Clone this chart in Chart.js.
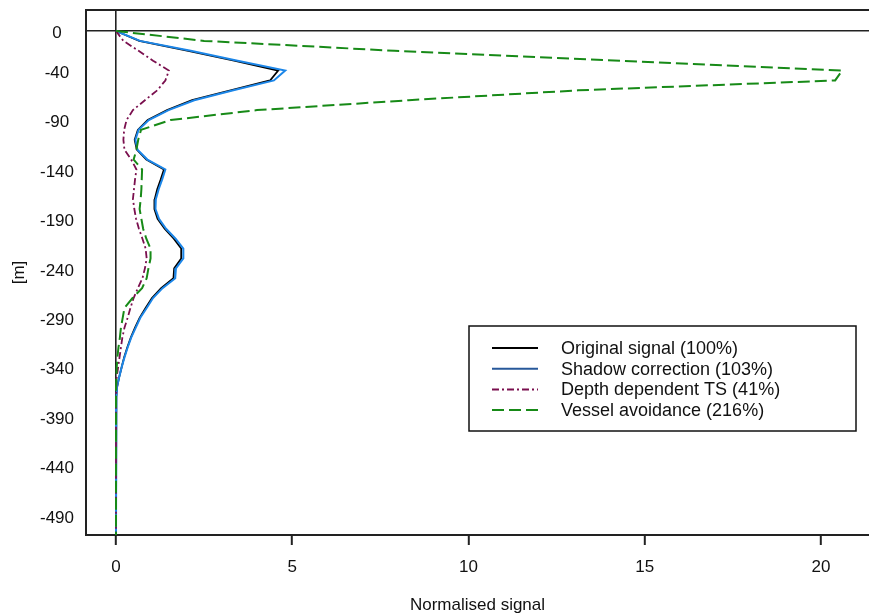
<!DOCTYPE html>
<html>
<head>
<meta charset="utf-8">
<script src="https://cdn.jsdelivr.net/npm/chart.js@4.4.1/dist/chart.umd.min.js"></script>
<style>
  body { margin: 0; background: #fff; }
  #wrap { width: 869px; height: 616px; position: relative; }
</style>
</head>
<body>
<div id="wrap"><canvas id="profile"></canvas></div>
<script>
'use strict';

// depth of each sample [m]
const depths = [0, -10, -20, -30, -40, -50, -60, -70, -80, -90,
    -100, -110, -120, -130, -140, -150, -160, -170, -180, -190,
    -200, -210, -220, -230, -240, -250, -260, -270, -280, -290,
    -300, -310, -320, -330, -340, -350, -360, -370, -380, -390,
    -400, -410, -420, -430, -440, -450, -460, -470, -480, -490,
    -500, -510];

const originalSignal = [0, 0.66, 2.05, 3.35, 4.6, 4.37, 3.25, 2.16, 1.45, 0.9,
    0.62, 0.53, 0.59, 0.86, 1.36, 1.27, 1.17, 1.1, 1.09, 1.18,
    1.38, 1.64, 1.85, 1.85, 1.65, 1.63, 1.28, 1.02, 0.84, 0.67,
    0.54, 0.42, 0.32, 0.23, 0.16, 0.09, 0.03, 0.01, 0, 0,
    0, 0, 0, 0, 0, 0, 0, 0, 0, 0,
    0, 0];

const shadowCorrection = [0, 0.68, 2.12, 3.45, 4.8, 4.48, 3.33, 2.22, 1.49, 0.93,
    0.64, 0.55, 0.61, 0.89, 1.4, 1.31, 1.21, 1.13, 1.12, 1.22,
    1.42, 1.69, 1.91, 1.91, 1.7, 1.68, 1.32, 1.05, 0.87, 0.69,
    0.56, 0.43, 0.33, 0.24, 0.16, 0.09, 0.03, 0.01, 0, 0,
    0, 0, 0, 0, 0, 0, 0, 0, 0, 0,
    0, 0];

const depthDependentTS = [0, 0.21, 0.64, 1.05, 1.5, 1.4, 1.17, 0.82, 0.48, 0.3,
    0.23, 0.21, 0.24, 0.43, 0.58, 0.54, 0.51, 0.48, 0.52, 0.57,
    0.65, 0.75, 0.84, 0.87, 0.82, 0.75, 0.62, 0.5, 0.41, 0.33,
    0.24, 0.18, 0.14, 0.1, 0.06, 0.02, 0.01, 0, 0, 0,
    0, 0, 0, 0, 0, 0, 0, 0, 0, 0,
    0, 0];

const vesselAvoidance = [0, 2.5, 7.9, 14.3, 20.6, 20.4, 13.1, 8.3, 4.0, 1.55,
    0.71, 0.63, 0.58, 0.5, 0.74, 0.73, 0.72, 0.7, 0.67, 0.72,
    0.77, 0.86, 0.98, 0.98, 0.92, 0.87, 0.74, 0.47, 0.24, 0.19,
    0.14, 0.11, 0.07, 0.04, 0.02, 0.01, 0, 0, 0, 0,
    0, 0, 0, 0, 0, 0, 0, 0, 0, 0,
    0, 0];

const seriesLabels = ['Original signal (100%)', 'Shadow correction (103%)',
    'Depth dependent TS (41%)', 'Vessel avoidance (216%)'];

const xTicks = [0, 5, 10, 15, 20];
const yTicks = [0, -40, -90, -140, -190, -240, -290, -340, -390, -440, -490];

const FONT = "'Liberation Sans', Arial, sans-serif";

let toPoints = function (values) {
    return values.map((v, i) => ({x: v, y: depths[i]}));
};

// top frame line (left and bottom come from the axis borders)
let frameTop = {
    id: 'frameTop',
    afterDraw: function (chart) {
        let ctx = chart.ctx;
        let a = chart.chartArea;
        ctx.save();
        ctx.strokeStyle = '#222';
        ctx.lineWidth = 2;
        ctx.beginPath();
        ctx.moveTo(a.left - 1, a.top);
        ctx.lineTo(a.right, a.top);
        ctx.stroke();
        ctx.restore();
    },
};

// boxed legend sitting inside the plot
let boxLegend = {
    id: 'boxLegend',
    afterDraw: function (chart) {
        let ctx = chart.ctx;
        let sets = chart.data.datasets;
        let bx = 469, by = 326, bw = 387, bh = 105;
        ctx.save();
        ctx.fillStyle = '#fff';
        ctx.fillRect(bx, by, bw, bh);
        ctx.strokeStyle = '#111';
        ctx.lineWidth = 1.5;
        ctx.strokeRect(bx, by, bw, bh);
        ctx.font = '18px ' + FONT;
        ctx.textBaseline = 'middle';
        ctx.textAlign = 'left';
        sets.forEach(function (ds, i) {
            let y = 348 + i * 20.7;
            ctx.strokeStyle = ds.legendColor || ds.borderColor;
            ctx.lineWidth = 2;
            ctx.setLineDash(ds.borderDash || []);
            ctx.beginPath();
            ctx.moveTo(492, y);
            ctx.lineTo(538, y);
            ctx.stroke();
            ctx.setLineDash([]);
            ctx.fillStyle = '#111';
            ctx.fillText(ds.label, 561, y + 1);
        });
        ctx.restore();
    },
};

let ctx = document.getElementById('profile').getContext('2d');

window.profileChart = new Chart(ctx, {
    type: 'scatter',
    data: {
        datasets: [
            {
                label: seriesLabels[0],
                data: toPoints(originalSignal),
                borderColor: '#000000',
                borderWidth: 1.8,
                order: 4,
            },
            {
                label: seriesLabels[1],
                data: toPoints(shadowCorrection),
                borderColor: '#1c86e8',
                legendColor: '#27589a',
                borderWidth: 2,
                order: 3,
            },
            {
                label: seriesLabels[2],
                data: toPoints(depthDependentTS),
                borderColor: '#7a0f4e',
                borderWidth: 1.8,
                borderDash: [7, 3, 2, 3],
                order: 2,
            },
            {
                label: seriesLabels[3],
                data: toPoints(vesselAvoidance),
                borderColor: '#178a17',
                borderWidth: 2,
                borderDash: [12, 5],
                order: 1,
            }],
    },
    options: {
        responsive: true,
        maintainAspectRatio: false,
        animation: false,
        showLine: true,
        elements: {
            point: {radius: 0, hoverRadius: 0},
            line: {tension: 0, fill: false},
        },
        layout: {padding: {top: 10, right: 0, left: 0, bottom: 0}},
        plugins: {
            legend: {display: false},
            tooltip: {enabled: false},
        },
        scales: {
            x: {
                type: 'linear',
                position: 'bottom',
                min: -0.851,
                max: 21.36,
                afterBuildTicks: function (scale) {
                    scale.ticks = xTicks.map(v => ({value: v}));
                },
                afterFit: function (scale) {
                    scale.height = 81;
                    scale.paddingLeft = 0;
                    scale.paddingRight = 0;
                },
                grid: {
                    color: c => (c.tick && c.tick.value === 0) ? '#222' : 'transparent',
                    lineWidth: 1.6,
                    drawTicks: true,
                    tickLength: 10,
                    tickColor: '#222',
                    tickWidth: 2,
                },
                border: {display: true, color: '#222', width: 2},
                ticks: {
                    color: '#111',
                    font: {family: FONT, size: 17},
                    padding: 12,
                    maxRotation: 0,
                    autoSkip: false,
                },
                title: {
                    display: true,
                    text: 'Normalised signal',
                    color: '#111',
                    font: {family: FONT, size: 17},
                    padding: {top: 0, bottom: 0},
                },
            },
            y: {
                type: 'linear',
                position: 'left',
                min: -509.6,
                max: 21.23,
                afterBuildTicks: function (scale) {
                    scale.ticks = yTicks.map(v => ({value: v}));
                },
                afterFit: function (scale) {
                    scale.width = 86;
                    scale.paddingTop = 0;
                    scale.paddingBottom = 0;
                },
                grid: {
                    color: c => (c.tick && c.tick.value === 0) ? '#222' : 'transparent',
                    lineWidth: 1.6,
                    drawTicks: false,
                },
                border: {display: true, color: '#222', width: 2},
                ticks: {
                    color: '#111',
                    font: {family: FONT, size: 17},
                    padding: 12,
                    labelOffset: 2.5,
                    crossAlign: 'center',
                    autoSkip: false,
                },
                title: {
                    display: true,
                    text: '[m]',
                    color: '#111',
                    font: {family: FONT, size: 17},
                    padding: {top: 9, bottom: 0},
                },
            },
        },
    },
    plugins: [frameTop, boxLegend],
});
</script>
</body>
</html>
